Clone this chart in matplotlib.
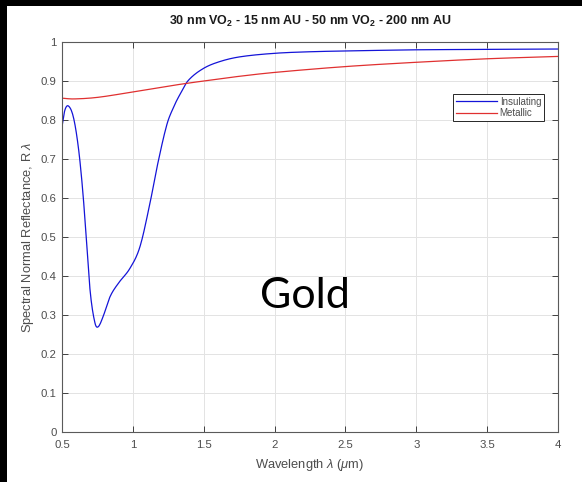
import matplotlib
matplotlib.use('Agg')
import matplotlib.pyplot as plt
from matplotlib.patches import Rectangle
import numpy as np
from matplotlib.ticker import FuncFormatter

# Insulating curve
wl_ins = [0.50, 0.52, 0.545, 0.58, 0.615, 0.646, 0.674, 0.70, 0.733, 0.756, 0.79, 0.839,
          0.897, 0.98, 1.05, 1.121, 1.168, 1.239, 1.29, 1.333, 1.39, 1.497, 1.615, 1.756,
          2.0, 2.25, 2.5, 3.0, 3.5, 4.0]
r_ins = [0.783, 0.825, 0.836, 0.808, 0.731, 0.62, 0.484, 0.356, 0.279, 0.270, 0.296, 0.347,
         0.381, 0.42, 0.475, 0.587, 0.675, 0.787, 0.835, 0.866, 0.901, 0.932, 0.950, 0.962,
         0.971, 0.975, 0.977, 0.980, 0.981, 0.982]

# Metallic curve
wl_met = [0.50, 0.58, 0.75, 1.0, 1.2, 1.38, 1.5, 1.75, 2.0, 2.5, 3.0, 3.5, 4.0]
r_met = [0.856, 0.854, 0.858, 0.872, 0.884, 0.894, 0.900, 0.912, 0.922, 0.937, 0.948, 0.957, 0.963]

xticks = [0.5, 1, 1.5, 2, 2.5, 3, 3.5, 4]
yticks = [0, 0.1, 0.2, 0.3, 0.4, 0.5, 0.6, 0.7, 0.8, 0.9, 1]

plt.rcParams['font.family'] = ['Liberation Sans', 'DejaVu Sans']
plt.rcParams['mathtext.fontset'] = 'custom'
plt.rcParams['mathtext.rm'] = 'Liberation Sans'
plt.rcParams['mathtext.it'] = 'Liberation Sans:italic'
plt.rcParams['mathtext.bf'] = 'Liberation Sans:bold'

fig = plt.figure(figsize=(5.82, 4.82), dpi=100, facecolor='white')
# black strips on top and left like the screenshot
fig.patches.append(Rectangle((0, 0), 7 / 582, 1, transform=fig.transFigure,
                             facecolor='black', edgecolor='none'))
fig.patches.append(Rectangle((0, 1 - 6 / 482), 1, 6 / 482, transform=fig.transFigure,
                             facecolor='black', edgecolor='none'))

ax = fig.add_axes([62 / 582, 1 - 432 / 482, 496 / 582, 390 / 482])

# smooth the hand-read points for drawing (cubic Hermite through them)
def smooth(xs, ys):
    xs = np.array(xs)
    ys = np.array(ys)
    xf = np.linspace(xs[0], xs[-1], 800)
    out = []
    for xv in xf:
        i = np.searchsorted(xs, xv) - 1
        i = min(max(i, 0), len(xs) - 2)
        p0 = ys[max(i - 1, 0)]
        p1 = ys[i]
        p2 = ys[i + 1]
        p3 = ys[min(i + 2, len(xs) - 1)]
        x0 = xs[max(i - 1, 0)]
        x1 = xs[i]
        x2 = xs[i + 1]
        x3 = xs[min(i + 2, len(xs) - 1)]
        h = x2 - x1
        m1 = (p2 - p0) / (x2 - x0) * h
        m2 = (p3 - p1) / (x3 - x1) * h
        t = (xv - x1) / h
        out.append((2*t**3 - 3*t**2 + 1) * p1 + (t**3 - 2*t**2 + t) * m1
                   + (-2*t**3 + 3*t**2) * p2 + (t**3 - t**2) * m2)
    return xf, np.array(out)

xi, yi = smooth(wl_ins, r_ins)
xm, ym = smooth(wl_met, r_met)
ax.plot(xi, yi, '-', color='#1414d8', lw=0.9, label='Insulating')
ax.plot(xm, ym, '-', color='#e03030', lw=0.9, label='Metallic')

ax.set_xlim(0.5, 4)
ax.set_ylim(0, 1)
ax.set_xticks(xticks)
ax.set_yticks(yticks)
ax.xaxis.set_major_formatter(FuncFormatter(lambda v, p: ('%g' % v)))
ax.yaxis.set_major_formatter(FuncFormatter(lambda v, p: ('%g' % v)))
ax.tick_params(direction='in', length=4, width=0.6, colors='#262626',
               labelsize=8.2, labelcolor='#4d4d4d', top=True, right=True)
ax.tick_params(axis='x', pad=6)
ax.tick_params(axis='y', pad=4)
ax.grid(True, color='#e3e3e3', lw=0.7)
ax.set_axisbelow(True)
for s in ax.spines.values():
    s.set_color('#5a5a5a')
    s.set_linewidth(0.8)

ax.set_xlabel(r'Wavelength $\lambda$ ($\mu$m)', fontsize=9.3, color='#4d4d4d', labelpad=5)
ax.set_ylabel(r'Spectral Normal Reflectance, R $\lambda$', fontsize=9.3, color='#4d4d4d', labelpad=3)
ax.set_title(r'30 nm VO$_\mathbf{2}$ - 15 nm AU - 50 nm VO$_\mathbf{2}$ - 200 nm AU',
             fontsize=9, fontweight='bold', color='#1a1a1a', pad=12)

leg = ax.legend(loc='upper right', bbox_to_anchor=(0.972, 0.867), fontsize=7,
                frameon=True, fancybox=False, edgecolor='#262626', framealpha=1,
                handlelength=4.2, handletextpad=0.3, borderpad=0.3, labelspacing=0.15,
                borderaxespad=0)
leg.get_frame().set_linewidth(0.7)
for t in leg.get_texts():
    t.set_color('#4d4d4d')

ax.text(305 / 582, 1 - 296 / 482, 'Gold', transform=fig.transFigure, fontsize=31,
        family=['Lato', 'DejaVu Sans'], ha='center', va='center', color='black')

fig.savefig('out.png', dpi=100, facecolor=fig.get_facecolor())
